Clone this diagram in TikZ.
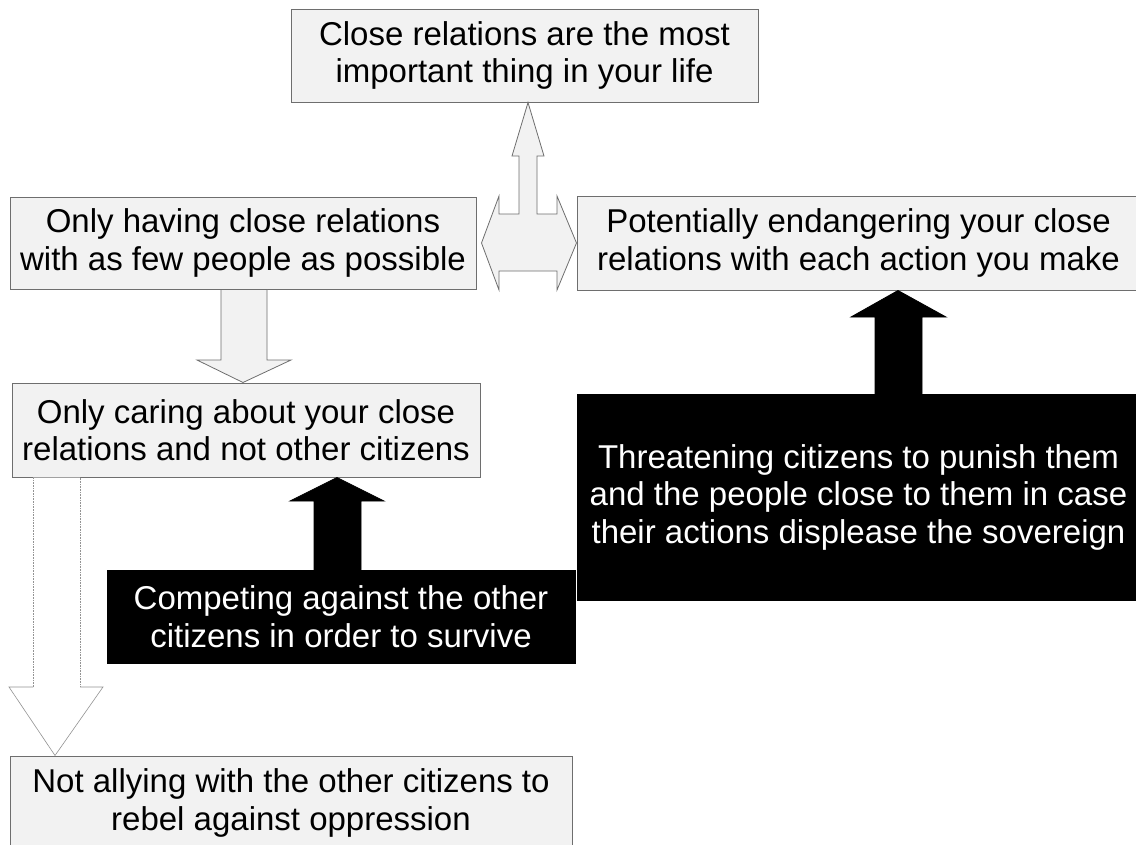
\documentclass[tikz,border=0pt]{standalone}
\usepackage{fontspec}
\setmainfont{Liberation Sans}
\usetikzlibrary{calc}
\definecolor{boxfill}{HTML}{F2F2F2}
\definecolor{boxline}{HTML}{6E6E6E}
\begin{document}
\begin{tikzpicture}[x=1pt,y=-1pt,
  txt/.style={font=\fontsize{33}{37.5}\selectfont, align=center, inner sep=0pt},
  lightbox/.style={txt, draw=boxline, fill=boxfill, line width=1pt},
  darkbox/.style={txt, draw=black, fill=black, text=white, line width=1pt},
  lightarrow/.style={draw=boxline, fill=boxfill, line width=0.8pt, line join=miter},
  thinarrow/.style={draw=gray!85, line width=0.6pt},
  darkarrow/.style={draw=black, fill=black, line width=0.8pt}]
\useasboundingbox (0,0) rectangle (1136,844);
\clip (0,0) rectangle (1136,844);

% statements
\node[lightbox, minimum width=467pt, minimum height=93pt] (top) at (524.5,55.5)
  {Close relations are the most\\important thing in your life};
\node[lightbox, minimum width=466pt, minimum height=92pt] (few) at (243,243)
  {Only having close relations\\with as few people as possible};
\node[lightbox, minimum width=563pt, minimum height=94pt] (risk) at (858.5,243)
  {Potentially endangering your close\\relations with each action you make};
\node[lightbox, minimum width=468pt, minimum height=94pt] (care) at (246,430)
  {Only caring about your close\\relations and not other citizens};
\node[lightbox, minimum width=562pt, minimum height=94pt] (ally) at (291,803)
  {Not allying with the other citizens to\\rebel against oppression};

% causes
\node[darkbox, minimum width=468pt, minimum height=93pt] (compete) at (341,616.5)
  {Competing against the other\\citizens in order to survive};
\node[darkbox, minimum width=563pt, minimum height=206pt] (threat) at (858.5,497)
  {Threatening citizens to punish them\\and the people close to them in case\\their actions displease the sovereign};

% three-way block arrow between top, few and risk
\draw[lightarrow] (528,0 |- top.south) -- (544,156) -- (537,156) -- (537,214)
  -- (557,214) -- (557,196) -- (risk.west |- 0,243) -- (557,290) -- (557,271)
  -- (499,271) -- (499,290) -- ($(few.east)+(5,0)$) -- (499,196) -- (499,214)
  -- (519,214) -- (519,156) -- (512,156) -- cycle;

% few -> care
\draw[lightarrow] (221,0 |- few.south) -- (267,0 |- few.south) -- (267,360)
  -- (291,360) -- (243,0 |- care.north) -- (197,360) -- (221,360) -- cycle;

% care -> ally: dotted shaft, solid head
\fill[white] (33,0 |- care.south) -- (80,0 |- care.south) -- (80,687)
  -- (103,687) -- (55,0 |- ally.north) -- (9,687) -- (33,687) -- cycle;
\draw[thinarrow, densely dotted] (33,687) -- (33,0 |- care.south)
  (80,0 |- care.south) -- (80,687);
\draw[thinarrow] (80,687) -- (103,687) -- (55,0 |- ally.north) -- (9,687) -- (33,687);

% compete -> care
\draw[darkarrow] (314,0 |- compete.north) -- (314,501) -- (290,501)
  -- (337,0 |- care.south) -- (384,501) -- (361,501) -- (361,0 |- compete.north) -- cycle;

% threat -> risk
\draw[darkarrow] (875,0 |- threat.north) -- (875,317) -- (851,317)
  -- (898,0 |- risk.south) -- (946,317) -- (922,317) -- (922,0 |- threat.north) -- cycle;
\end{tikzpicture}
\end{document}
